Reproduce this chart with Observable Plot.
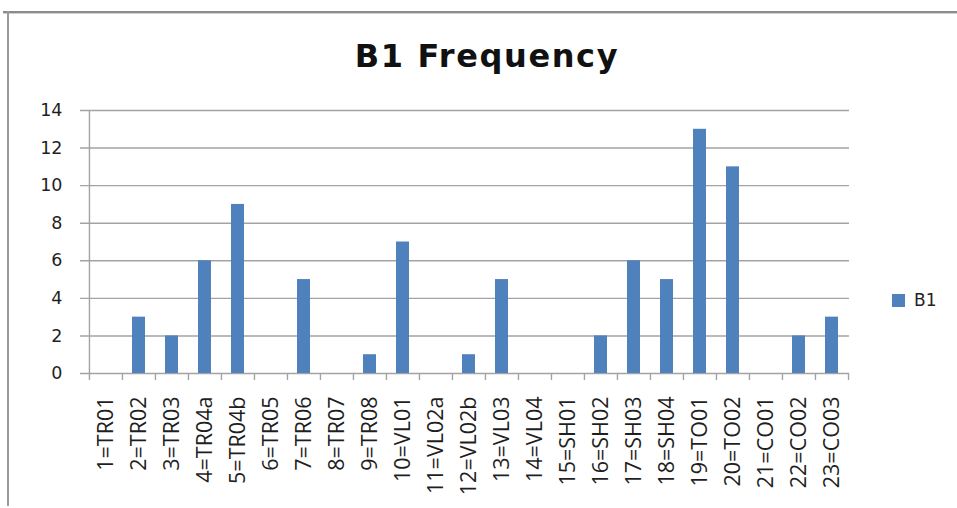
<!DOCTYPE html>
<html><head><meta charset="utf-8">
<script src="https://cdn.jsdelivr.net/npm/d3@7"></script>
<script src="https://cdn.jsdelivr.net/npm/@observablehq/plot@0.6"></script>
<style>
html,body{margin:0;padding:0;background:#fff;}
#wrap{position:relative;width:957px;height:508px;overflow:hidden;background:#fff;}
#chart{position:absolute;left:0;top:0;}
.bt{position:absolute;left:3px;top:11px;width:960px;height:0;border-top:2px solid #8c8c8c;box-shadow:0 1px 0 #d0d0d0;}
.bl{position:absolute;left:7px;top:11px;width:0;height:495px;border-left:2px solid #9a9a9a;}
#title{position:absolute;left:0;width:957px;top:40px;text-align:center;font-family:"DejaVu Sans",sans-serif;font-weight:bold;font-size:32px;line-height:32px;color:#111;letter-spacing:1.6px;padding-left:17px;box-sizing:border-box;}
#legend{position:absolute;left:892px;top:292px;font-family:"DejaVu Sans",sans-serif;font-size:17px;line-height:17px;color:#222;display:flex;align-items:center;}
#legend .sw{display:inline-block;width:13px;height:13px;margin-right:9px;}
</style></head><body>
<div id="wrap">
  <div class="bt"></div><div class="bl"></div>
  <div id="title"></div>
  <div id="legend"><span class="sw"></span><span class="lt"></span></div>
  <div id="chart"></div>
</div>
<script>
const titleText = "B1 Frequency";
const seriesName = "B1";
const seriesColor = "#4f81bd";
const categories = ["1=TR01","2=TR02","3=TR03","4=TR04a","5=TR04b","6=TR05","7=TR06","8=TR07","9=TR08","10=VL01","11=VL02a","12=VL02b","13=VL03","14=VL04","15=SH01","16=SH02","17=SH03","18=SH04","19=TO01","20=TO02","21=CO01","22=CO02","23=CO03"];
const b1Values = [0,3,2,6,9,0,5,0,1,7,0,1,5,0,0,2,6,5,13,11,0,2,3];
const yTicks = [0,2,4,6,8,10,12,14];

document.getElementById("title").textContent = titleText;
document.querySelector("#legend .lt").textContent = seriesName;
document.querySelector("#legend .sw").style.background = seriesColor;

const data = categories.map((c, i) => ({cat: c, value: b1Values[i]}));
const W = 957, H = 508;
const ml = 88, mr = 108, mt = 110, mb = 135;
const step = (W - ml - mr) / categories.length;
const gridColor = "#a3a3a3";

const chart = Plot.plot({
  width: W, height: H,
  marginLeft: ml, marginRight: mr, marginTop: mt, marginBottom: mb,
  style: {background: "transparent", fontFamily: "DejaVu Sans", color: "#1f1f1f", overflow: "visible"},
  x: {domain: categories, paddingInner: 0.62, paddingOuter: 0.31, align: 0.5},
  y: {domain: [0, 14]},
  marks: [
    Plot.ruleY(yTicks, {stroke: gridColor, strokeWidth: 1.4, insetLeft: -8}),
    Plot.barY(data, {x: "cat", y: "value", fill: seriesColor}),
    Plot.ruleX([categories[0]], {dx: -step / 2, y1: 0, y2: 14, stroke: gridColor, strokeWidth: 1.4}),
    Plot.ruleX(categories, {dx: -step / 2, y1: 0, y2: 0, insetBottom: -7, stroke: gridColor, strokeWidth: 1.4}),
    Plot.ruleX([categories[categories.length - 1]], {dx: step / 2, y1: 0, y2: 0, insetBottom: -7, stroke: gridColor, strokeWidth: 1.4}),
    Plot.axisY({ticks: yTicks, tickSize: 0, tickPadding: 26, fontSize: 17.5, label: null, fill: "#1f1f1f"}),
    Plot.axisX({tickSize: 0, tickPadding: 23, tickRotate: -90, fontSize: 21.5, fontFamily: "Open Sans", label: null, fill: "#1f1f1f"})
  ]
});
document.getElementById("chart").appendChild(chart);
</script>
</body></html>
